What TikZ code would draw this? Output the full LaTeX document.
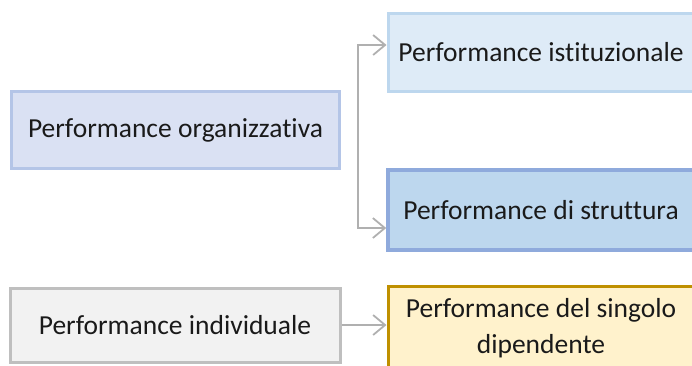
\documentclass[tikz,border=0pt]{standalone}
\usepackage{fontspec}
\setmainfont[Ligatures={NoCommon}]{Carlito}
\usetikzlibrary{arrows.meta}
\definecolor{orgfill}{HTML}{DAE1F3}
\definecolor{orgline}{HTML}{B4C5E7}
\definecolor{istfill}{HTML}{DEEBF7}
\definecolor{istline}{HTML}{BDD7EE}
\definecolor{strfill}{HTML}{BDD7EE}
\definecolor{strline}{HTML}{8FAADC}
\definecolor{indfill}{HTML}{F2F2F2}
\definecolor{indline}{HTML}{BFBFBF}
\definecolor{sinfill}{HTML}{FFF2CC}
\definecolor{sinline}{HTML}{BF9000}
\definecolor{conn}{HTML}{B0B0B0}
\definecolor{txt}{HTML}{1A1A1A}
\tikzset{
  box/.style={draw, rectangle, line width=3pt, inner sep=0pt, align=center,
    text=txt, font=\fontsize{27.5}{36}\selectfont},
  conn/.style={draw=conn, line width=1.8pt, -{Straight Barb[length=12pt,width=20pt,line width=1.8pt]}},
}
\begin{document}
\begin{tikzpicture}[x=1pt,y=-1pt]
\useasboundingbox (0,0) rectangle (692,365);
\clip (0,0) rectangle (692,365);
\node[box, fill=orgfill, draw=orgline, minimum width=328pt, minimum height=77pt] (org) at (175.5,130) {Performance organizzativa};
\node[box, fill=istfill, draw=istline, minimum width=306pt, minimum height=78pt] (ist) at (541,52) {Performance istituzionale};
\node[box, fill=strfill, draw=strline, line width=3.5pt, minimum width=306pt, minimum height=80pt] (str) at (541,210) {Performance di struttura};
\node[box, fill=indfill, draw=indline, minimum width=330pt, minimum height=74pt] (ind) at (175,325) {Performance individuale};
\node[box, fill=sinfill, draw=sinline, minimum width=306pt, minimum height=84pt] (sin) at (541,328) {Performance del singolo\\dipendente};
\coordinate (jt) at (358,45);
\coordinate (jb) at (358,228);
\draw[conn] (jb) -- (jt) -- (jt -| ist.west);
\draw[conn] (jt) -- (jb) -- (jb -| str.west);
\draw[conn] (ind.east) -- (ind.east -| sin.west);
\end{tikzpicture}
\end{document}
